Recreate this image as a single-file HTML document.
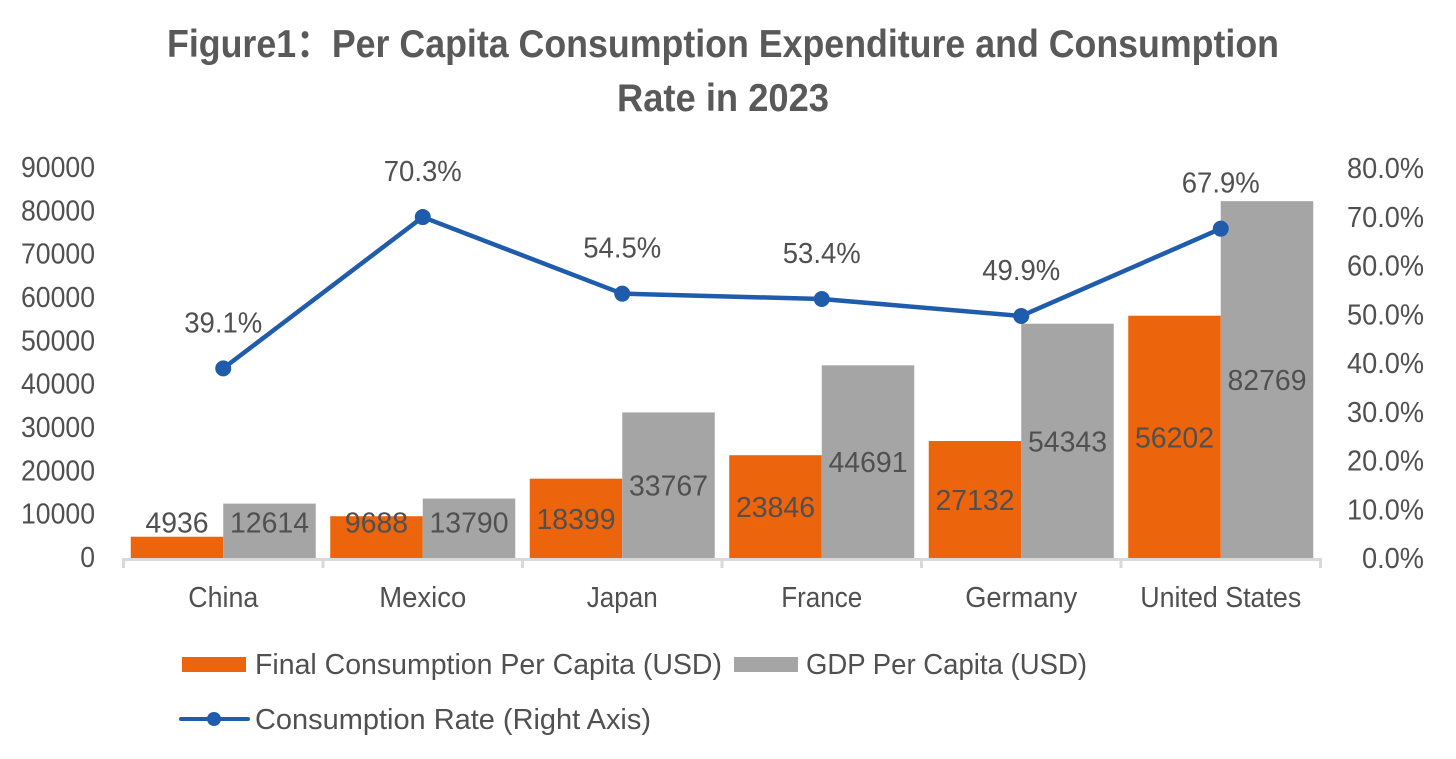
<!DOCTYPE html>
<html lang="en">
<head>
<meta charset="utf-8">
<title>Per Capita Consumption Expenditure and Consumption Rate in 2023</title>
<style>
html,body{margin:0;padding:0;background:#fff;width:1456px;height:759px;overflow:hidden}
svg{display:block}
text{font-family:"Liberation Sans","Noto Sans CJK SC",sans-serif;fill:#505050}
</style>
</head>
<body>
<svg id="chart" xmlns="http://www.w3.org/2000/svg" width="1456" height="759" viewBox="0 0 1456 759">
  <rect x="0" y="0" width="1456" height="759" fill="#ffffff"/>
  <text x="167" y="57" font-size="39" font-weight="bold" textLength="1112" lengthAdjust="spacingAndGlyphs" style="fill:#595959">Figure1：Per Capita Consumption Expenditure and Consumption</text>
  <text x="617" y="111" font-size="39" font-weight="bold" textLength="212" lengthAdjust="spacingAndGlyphs" style="fill:#595959">Rate in 2023</text>
  <g id="plot"></g>
  <g>
    <rect x="182" y="657" width="64" height="15" fill="#ec640c"/>
    <text x="255" y="674" font-size="29" textLength="467" lengthAdjust="spacingAndGlyphs">Final Consumption Per Capita (USD)</text>
    <rect x="734" y="657" width="64" height="15" fill="#a5a5a5"/>
    <text x="806" y="674" font-size="29" textLength="281" lengthAdjust="spacingAndGlyphs">GDP Per Capita (USD)</text>
    <line x1="181" y1="719" x2="248" y2="719" stroke="#1f5cab" stroke-width="4" stroke-linecap="round"/>
    <circle cx="214" cy="719" r="7" fill="#1f5cab"/>
    <text x="255" y="729" font-size="29" textLength="396" lengthAdjust="spacingAndGlyphs">Consumption Rate (Right Axis)</text>
  </g>
</svg>
<script>
var categories = ["China", "Mexico", "Japan", "France", "Germany", "United States"];
var finalConsumption = [4936, 9688, 18399, 23846, 27132, 56202];
var gdpPerCapita = [12614, 13790, 33767, 44691, 54343, 82769];
var consumptionRate = [39.1, 70.3, 54.5, 53.4, 49.9, 67.9];
var leftTicks = [0, 10000, 20000, 30000, 40000, 50000, 60000, 70000, 80000, 90000];
var rightTicks = [0, 10, 20, 30, 40, 50, 60, 70, 80];

var NS = 'http://www.w3.org/2000/svg';
var plot = document.getElementById('plot');
var X0 = 123.5, X1 = 1320.5, Y0 = 558, PLOT_H = 388, LABEL_H = 390;
var LEFT_MAX = 90000, RIGHT_MAX = 80;
var BAND = (X1 - X0) / categories.length;
var BAR_W = 92.5;

function yLeft(v) { return Y0 - v / LEFT_MAX * PLOT_H; }
function yRight(v) { return Y0 - v / RIGHT_MAX * PLOT_H; }
function yLeftLabel(v) { return Y0 - v / LEFT_MAX * LABEL_H; }
function yRightLabel(v) { return Y0 - v / RIGHT_MAX * LABEL_H; }
function xCenter(i) { return X0 + BAND * (i + 0.5); }

function make(tag, attrs, text) {
  var n = document.createElementNS(NS, tag);
  for (var k in attrs) n.setAttribute(k, attrs[k]);
  if (text !== undefined) n.textContent = text;
  plot.appendChild(n);
  return n;
}
function slug(s) { return s.toLowerCase().replace(/\s+/g, '-'); }
function barLabelY(v) { return Math.min((Y0 + yLeft(v)) / 2, 522) + 10.5; }

// left axis tick labels
leftTicks.forEach(function (t) {
  var el = make('text', { x: 95, y: yLeftLabel(t) + 9, 'text-anchor': 'end', 'font-size': 29, textLength: String(t).length * 14.8, lengthAdjust: 'spacingAndGlyphs' }, String(t));
  
  
});
// right axis tick labels
rightTicks.forEach(function (t) {
  var s = t.toFixed(1) + '%';
  var el = make('text', { x: 1424, y: yRightLabel(t) + 10, 'text-anchor': 'end', 'font-size': 29, textLength: t === 0 ? 62 : 77, lengthAdjust: 'spacingAndGlyphs' }, s);
  
  
});

// bars
categories.forEach(function (c, i) {
  var cx = xCenter(i);
  var y1 = yLeft(finalConsumption[i]);
  var y2 = yLeft(gdpPerCapita[i]);
  var b1 = make('rect', { x: cx - BAR_W, y: y1, width: BAR_W, height: Y0 - y1, fill: '#ec640c' });
  
  
  var b2 = make('rect', { x: cx, y: y2, width: BAR_W, height: Y0 - y2, fill: '#a5a5a5' });
  
  
});

// x axis
var axis = make('line', { x1: X0, y1: Y0 + 1.5, x2: X1, y2: Y0 + 1.5, stroke: '#d9d9d9', 'stroke-width': 3 });


for (var i = 0; i <= categories.length; i++) {
  var tk = make('line', { x1: X0 + BAND * i, y1: Y0, x2: X0 + BAND * i, y2: Y0 + 10, stroke: '#d9d9d9', 'stroke-width': 3 });
  
  
}
var catWidths = [70, 87, 71, 81, 112, 161];
categories.forEach(function (c, i) {
  var el = make('text', { x: xCenter(i), y: 607, 'text-anchor': 'middle', 'font-size': 29, textLength: catWidths[i], lengthAdjust: 'spacingAndGlyphs' }, c);
  
  
});

// bar value labels
categories.forEach(function (c, i) {
  var cx = xCenter(i);
  var a = finalConsumption[i], b = gdpPerCapita[i];
  var l1 = make('text', { x: cx - BAR_W / 2, y: barLabelY(a), 'text-anchor': 'middle', 'font-size': 29, textLength: String(a).length * 15.8, lengthAdjust: 'spacingAndGlyphs' }, String(a));
  
  
  var l2 = make('text', { x: cx + BAR_W / 2, y: barLabelY(b), 'text-anchor': 'middle', 'font-size': 29, textLength: String(b).length * 15.8, lengthAdjust: 'spacingAndGlyphs' }, String(b));
  
  
});

// line series
var pts = consumptionRate.map(function (v, i) { return xCenter(i) + ',' + yRight(v); }).join(' ');
var line = make('polyline', { points: pts, fill: 'none', stroke: '#1f5cab', 'stroke-width': 4.5, 'stroke-linejoin': 'round' });


consumptionRate.forEach(function (v, i) {
  var cx = xCenter(i), cy = yRight(v);
  var p = make('circle', { cx: cx, cy: cy, r: 8, fill: '#1f5cab' });
  
  
  var t = make('text', { x: cx, y: cy - 36, 'text-anchor': 'middle', 'font-size': 29, textLength: 78, lengthAdjust: 'spacingAndGlyphs' }, v.toFixed(1) + '%');
  
  
});
</script>
</body>
</html>
